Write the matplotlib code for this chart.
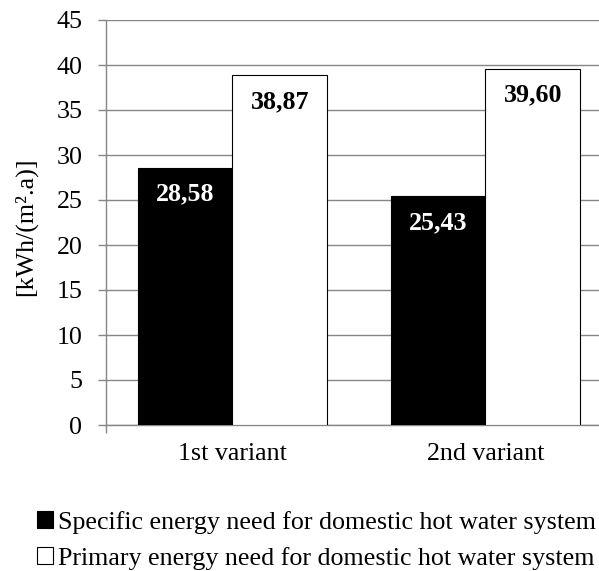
import matplotlib
matplotlib.use("Agg")
import matplotlib.pyplot as plt
import numpy as np

plt.rcParams['font.family'] = ['Liberation Serif', 'DejaVu Serif']

variants = ["1st variant", "2nd variant"]
specific = [28.58, 25.43]
primary = [38.87, 39.60]
series_names = ["Specific energy need for domestic hot water system",
                "Primary energy need for domestic hot water system"]
yticks = [0, 5, 10, 15, 20, 25, 30, 35, 40, 45]

grid_col = "#868686"
fs = 18.7

fig = plt.figure(figsize=(5.99, 5.71), dpi=100)
ax = fig.add_axes([106 / 599, 146 / 571, 493 / 599, 405 / 571])

x = np.arange(len(variants))
w = 0.375
b1 = ax.bar(x - w / 2, specific, w, color="black", edgecolor="black", linewidth=0.8, zorder=3)
b2 = ax.bar(x + w / 2, primary, w, color="white", edgecolor="black", linewidth=0.8, zorder=3)

def fmt(v):
    return ("%.2f" % v).replace(".", ",")

for rect, v in zip(b1, specific):
    ax.annotate(fmt(v), (rect.get_x() + rect.get_width() / 2, v), xytext=(0, -19),
                textcoords="offset points", ha="center", va="center",
                color="white", fontsize=fs, fontweight="bold", zorder=4)
for rect, v in zip(b2, primary):
    ax.annotate(fmt(v), (rect.get_x() + rect.get_width() / 2, v), xytext=(0, -19),
                textcoords="offset points", ha="center", va="center",
                color="black", fontsize=fs, fontweight="bold", zorder=4)

ax.set_ylim(0, 45)
ax.set_xlim(-0.5, 1.449)
ax.set_yticks(yticks)
ax.yaxis.grid(True, color=grid_col, linewidth=1)
ax.set_axisbelow(True)

ax.set_xticks(x)
ax.set_xticklabels(variants, fontsize=fs)
ax.tick_params(axis="x", length=0, pad=13)
ax.set_xticks([-0.5], minor=True)
ax.tick_params(axis="x", which="minor", length=6, color=grid_col, width=1)
ax.tick_params(axis="y", labelsize=fs, length=6, pad=11, color=grid_col, width=1)

for s in ["top", "right"]:
    ax.spines[s].set_visible(False)
for s in ["left", "bottom"]:
    ax.spines[s].set_color(grid_col)
    ax.spines[s].set_linewidth(1)

ax.set_ylabel("[kWh/(m².a)]", fontsize=fs)
ax.yaxis.set_label_coords(-0.14, 0.49)

fig.legend([b1, b2], series_names, loc="upper left", bbox_to_anchor=(37 / 599, 0.105),
           frameon=False, fontsize=fs, handlelength=0.62, handleheight=0.62,
           handletextpad=0.2, labelspacing=0.5, borderpad=0, borderaxespad=0)

fig.savefig("out.png", dpi=100)
